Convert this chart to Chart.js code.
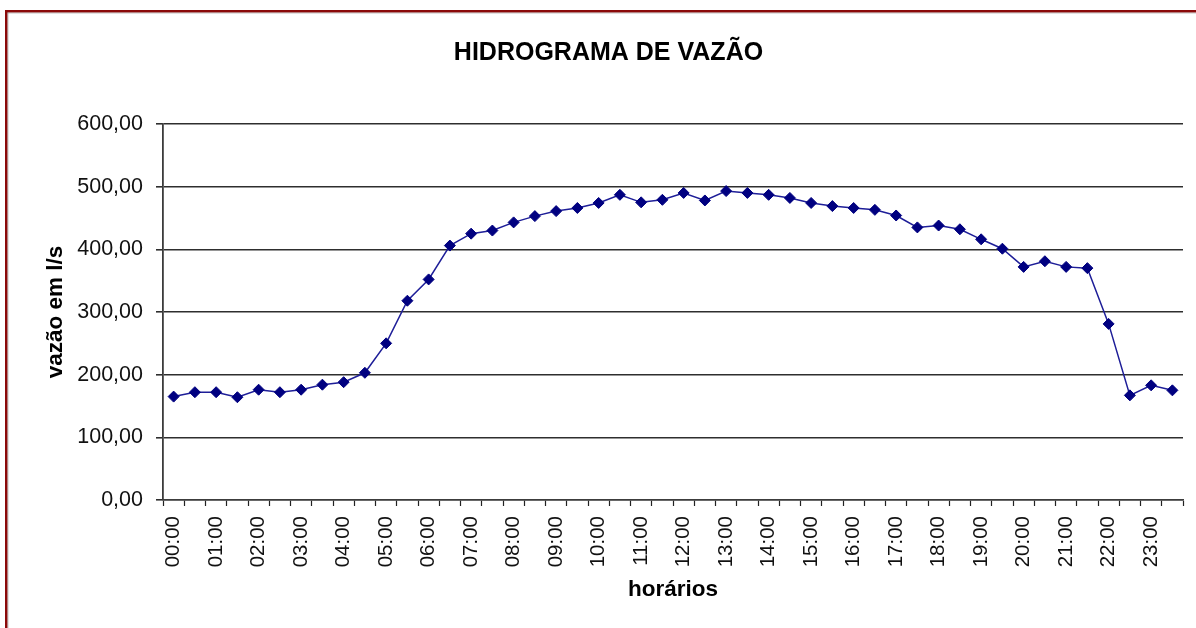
<!DOCTYPE html>
<html lang="pt">
<head>
<meta charset="utf-8">
<title>Hidrograma de vazão</title>
<script src="https://cdn.jsdelivr.net/npm/chart.js@4.4.1/dist/chart.umd.min.js"></script>
<style>
  html, body { margin: 0; padding: 0; background: #ffffff; overflow: hidden; }
  #wrap { position: absolute; left: 0; top: 0; width: 1196px; height: 628px; }
</style>
</head>
<body>
<div id="wrap"><canvas id="grafico" width="1196" height="628"></canvas></div>
<script>
// Horários (meia em meia hora)
const horarios = [
  "00:00","00:30","01:00","01:30","02:00","02:30","03:00","03:30",
  "04:00","04:30","05:00","05:30","06:00","06:30","07:00","07:30",
  "08:00","08:30","09:00","09:30","10:00","10:30","11:00","11:30",
  "12:00","12:30","13:00","13:30","14:00","14:30","15:00","15:30",
  "16:00","16:30","17:00","17:30","18:00","18:30","19:00","19:30",
  "20:00","20:30","21:00","21:30","22:00","22:30","23:00","23:30"
];

// Vazão medida em l/s
const vazao = [
  165, 172, 172, 164, 176, 172, 176, 184,
  188, 203, 250, 318, 352, 406, 425, 430,
  443, 453, 461, 466, 474, 487, 475, 479,
  490, 478, 493, 490, 487, 482, 474, 469,
  466, 463, 454, 435, 438, 432, 416, 401,
  372, 381, 372, 370, 281, 167, 183, 175
];

// Marcas do eixo de vazão
const marcasVazao = [0, 100, 200, 300, 400, 500, 600];

const fonte = "'Liberation Sans', Arial, sans-serif";

// Moldura vermelho-escura em volta do gráfico
const moldura = {
  id: 'moldura',
  beforeDraw(chart) {
    const ctx = chart.ctx;
    ctx.save();
    ctx.fillStyle = '#ffffff';
    ctx.fillRect(0, 0, chart.width, chart.height);
    ctx.fillStyle = '#8b0a0a';
    ctx.fillRect(5, 10, chart.width - 5, 2.5);
    ctx.fillRect(5, 10, 2.5, chart.height - 10);
    ctx.fillStyle = 'rgba(120,120,120,0.45)';
    ctx.fillRect(7.5, 12.5, chart.width - 7.5, 1);
    ctx.fillRect(7.5, 12.5, 1, chart.height - 12.5);
    ctx.restore();
  }
};

new Chart(document.getElementById('grafico'), {
  type: 'line',
  data: {
    labels: horarios,
    datasets: [{
      label: 'vazão',
      data: vazao,
      borderColor: '#1e1e98',
      borderWidth: 1.5,
      backgroundColor: '#000080',
      pointStyle: 'rectRot',
      pointRadius: 5.5,
      pointBorderWidth: 1,
      pointBorderColor: '#000080',
      pointBackgroundColor: '#000080',
      tension: 0,
      fill: false
    }]
  },
  options: {
    responsive: false,
    animation: false,
    devicePixelRatio: 1,
    layout: { padding: { left: 34, right: 13, top: 0, bottom: 0 } },
    plugins: {
      legend: { display: false },
      tooltip: { enabled: false },
      title: {
        display: true,
        text: 'HIDROGRAMA DE VAZÃO',
        color: '#000000',
        font: { family: fonte, size: 25, weight: 'bold', lineHeight: 1.2 },
        padding: { top: 38, bottom: 56 }
      }
    },
    scales: {
      x: {
        type: 'category',
        offset: true,
        grid: {
          offset: true,
          drawOnChartArea: false,
          drawTicks: true,
          tickLength: 6,
          tickColor: '#222222',
          tickWidth: 1.2
        },
        border: { display: true, color: '#3c3c3c', width: 1.6 },
        ticks: {
          autoSkip: false,
          maxRotation: 90,
          minRotation: 90,
          padding: 10,
          color: '#111111',
          font: { family: fonte, size: 20.5 },
          callback: (v, i) => (i % 2 === 0 ? horarios[i] : '')
        },
        title: {
          display: true,
          text: 'horários',
          color: '#000000',
          font: { family: fonte, size: 22.5, weight: 'bold', lineHeight: 1.2 },
          padding: { top: 0, bottom: 25 }
        },
        afterFit: s => {
          s.height = 128;
          s.paddingLeft = 0;
          s.paddingRight = 0;
        }
      },
      y: {
        min: 0,
        max: 600,
        afterBuildTicks: s => { s.ticks = marcasVazao.map(v => ({ value: v })); },
        grid: {
          color: '#2e2e2e',
          lineWidth: 1.6,
          drawTicks: true,
          tickLength: 7,
          tickColor: '#2e2e2e'
        },
        border: { display: true, color: '#3c3c3c', width: 1.8 },
        ticks: {
          padding: 13,
          color: '#111111',
          font: { family: fonte, size: 21.5 },
          callback: v => v.toFixed(2).replace('.', ',')
        },
        title: {
          display: true,
          text: 'vazão em l/s',
          color: '#000000',
          font: { family: fonte, size: 22.5, weight: 'bold', lineHeight: 1.2 },
          padding: { top: 8, bottom: 0 }
        },
        afterFit: s => { s.width = 129; }
      }
    }
  },
  plugins: [moldura]
});
</script>
</body>
</html>
